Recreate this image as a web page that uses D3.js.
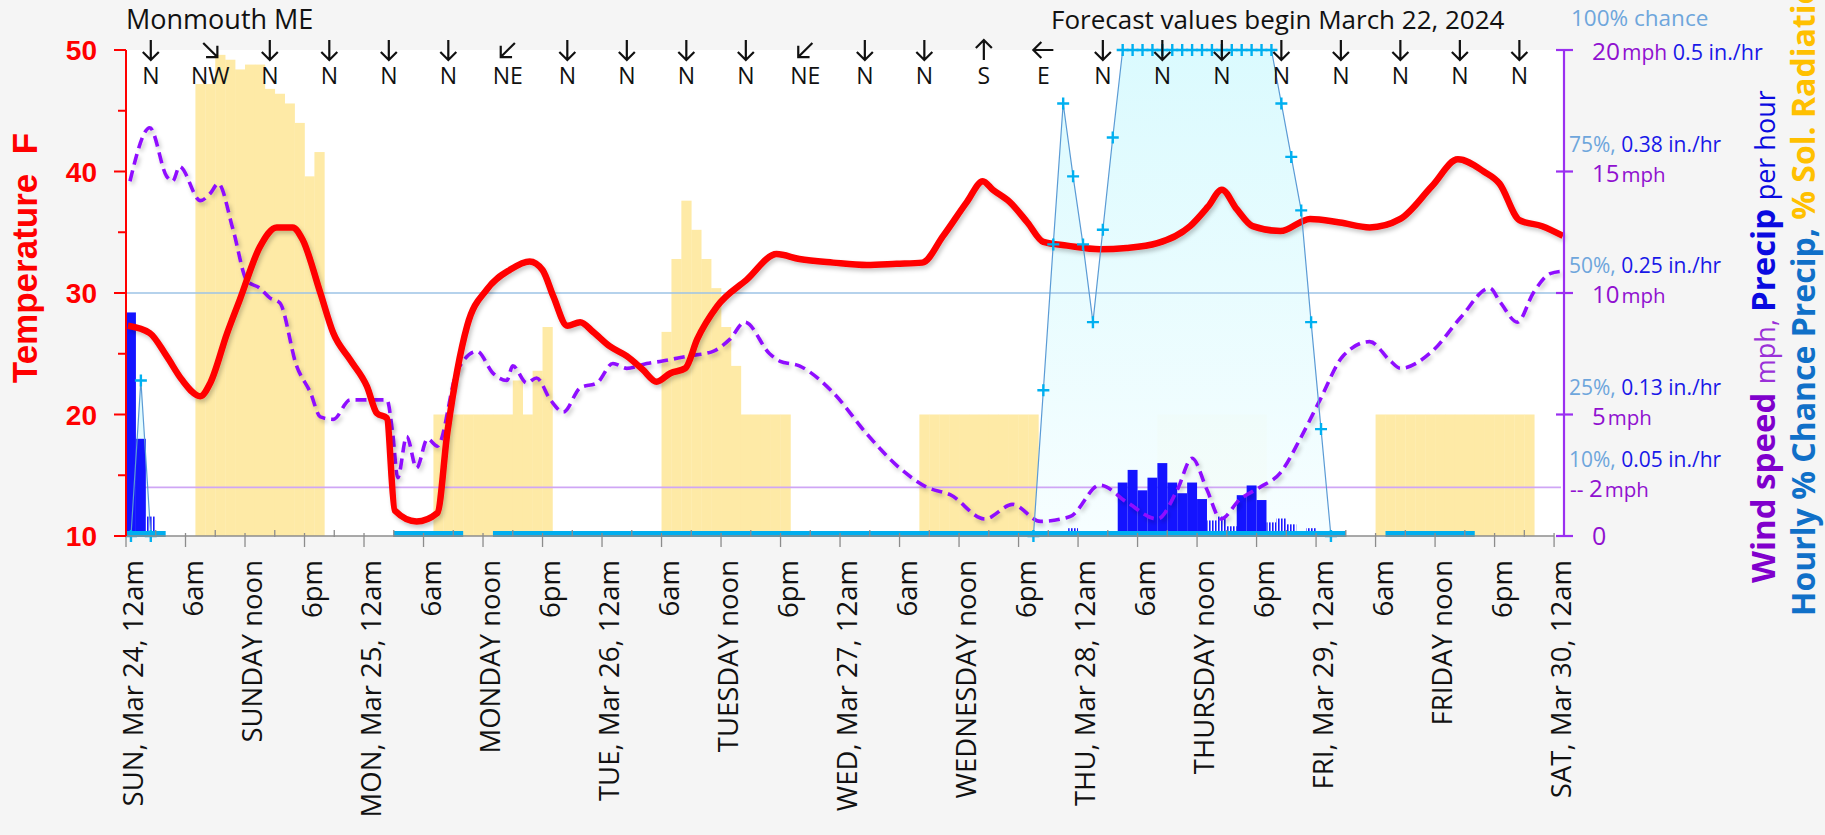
<!DOCTYPE html>
<html><head><meta charset="utf-8">
<script src="https://cdn.jsdelivr.net/npm/d3@7"></script>
<style>
html,body{margin:0;padding:0;background:#f5f5f5;}
svg{display:block;}
</style></head><body>
<svg id="chart" width="1825" height="835"></svg>
<script>
// ---------------- DATA ----------------
const stationName = "Monmouth ME";
const forecastNote = "Forecast values begin March 22, 2024";
const tickLabels = ["SUN, Mar 24, 12am","6am","SUNDAY noon","6pm","MON, Mar 25, 12am","6am","MONDAY noon","6pm",
  "TUE, Mar 26, 12am","6am","TUESDAY noon","6pm","WED, Mar 27, 12am","6am","WEDNESDAY noon","6pm",
  "THU, Mar 28, 12am","6am","THURSDAY noon","6pm","FRI, Mar 29, 12am","6am","FRIDAY noon","6pm","SAT, Mar 30, 12am"];
const tempTicks = [10,20,30,40,50];
const windDirs = ["N","NW","N","N","N","N","NE","N","N","N","N","NE","N","N","S","E","N","N","N","N","N","N","N","N"];

const tempHours = [0.2,2.4,4.1,5.6,7.5,8.5,10.2,11.5,13.5,15.2,16.8,17.8,19.6,20.9,22.6,24.3,25.3,26.3,27.1,29.3,
  31.4,32.4,34.4,36.4,38.7,40.7,42.0,43.1,44.5,45.8,47.1,48.8,50.5,52.1,53.5,54.9,56.4,57.6,59.6,62.6,
  65.6,67.9,71.3,74.7,77.7,80.3,82.4,84.8,86.4,87.4,89.1,90.9,92.5,94.9,98.2,100.9,104.0,107.3,109.1,110.5,
  112.0,113.6,116.4,119.4,122.4,125.4,128.5,131.7,134.3,136.9,138.5,140.5,142.8,144.9];
const tempValues = [27.3,26.7,24.8,22.9,21.5,22.6,26.7,29.5,33.8,35.4,35.4,34.4,30.0,26.7,24.5,22.3,20.1,19.7,12.1,11.2,
  11.9,18.5,27.3,30.3,31.9,32.6,31.9,29.7,27.3,27.6,26.8,25.6,24.8,23.7,22.7,23.4,23.8,26.2,28.9,31.1,
  33.2,32.8,32.5,32.3,32.4,32.5,34.7,37.5,39.2,38.5,37.5,35.8,34.2,33.9,33.6,33.7,34.1,35.5,37.1,38.5,
  36.9,35.5,35.1,36.1,35.8,35.4,36.1,38.8,41.0,40.0,39.0,36.0,35.5,34.7];

const windHours = [0.4,2.4,4.1,4.7,5.4,7.5,8.5,9.3,10.8,12.2,13.5,14.5,15.5,17.2,18.6,19.6,20.9,22.6,24.6,26.3,
  26.9,27.4,28.3,29.3,30.4,31.4,33.4,35.4,37.0,38.4,39.0,40.4,41.4,42.8,44.1,45.8,47.5,49.1,50.5,52.5,
  54.1,56.6,59.2,60.9,62.4,64.9,65.9,67.9,71.3,74.7,78.0,80.8,83.1,86.6,89.4,92.2,95.2,98.2,100.9,104.0,
  106.0,107.5,109.0,110.4,112.3,114.3,116.4,118.4,120.4,122.7,125.4,127.5,128.5,131.7,134.6,137.5,138.6,140.3,141.9,143.6,144.9];
const windValues = [14.6,16.8,14.8,14.6,15.2,13.8,14.1,14.5,12.6,10.5,10.2,9.8,9.6,7.0,5.9,4.9,4.8,5.6,5.6,5.6,
  4.2,2.4,4.1,2.8,4.0,3.7,6.8,7.6,6.7,6.4,7.0,6.3,6.5,5.6,5.1,6.1,6.3,7.1,6.9,7.1,
  7.2,7.4,7.6,8.1,8.8,7.5,7.2,7.0,5.9,4.2,2.8,2.0,1.7,0.7,1.3,0.6,0.8,2.1,1.4,0.7,
  1.9,3.2,1.9,0.7,1.5,2.0,2.6,4.0,5.6,7.4,8.0,7.2,6.9,7.6,9.0,10.2,9.6,8.8,10.0,10.8,10.9];

const chanceHours = [0,1,2,91,92,93,94,95,96,97,98,99,100,101,102,103,104,105,106,107,108,109,110,111,112,113,114,115,116,117,118,119,120,121];
const chanceValues = [0,32,0,0,30,60,89,74,60,44,63,82,100,100,100,100,100,100,100,100,100,100,100,100,100,100,100,100,89,78,67,44,22,0];

const precipHours = [0,1,2,95,100,101,102,103,104,105,106,107,108,109,110,111,112,113,114,115,116,117,119];
const precipRate  = [0.23,0.10,0.02,0.008,0.055,0.068,0.047,0.06,0.075,0.055,0.044,0.055,0.038,0.016,0.02,0.01,0.042,0.052,0.037,0.014,0.018,0.012,0.008];

const solarStart = [7,31,54,80,104,126];
const solarPct = [
  [93,93,99,98,96,97,97,92,91,89,85,74,79],
  [25,25,25,25,25,25,25,25,32,25,34,43],
  [42,57,69,63,57,51,43,35,25,25,25,25,25],
  [25,25,25,25,25,25,25,25,25,25,25,25],
  [25,25,25,25,25,25,25,25,25,25,25],
  [25,25,25,25,25,25,25,25,25,25,25,25,25,25,25,25]
];
const bandRuns = [[0,4],[27,34],[37,123],[127,136]];

const mphTicks = [0,5,10,15,20];
const pctMph = [2,5,10,15];
const pctLabels = ["10%,","25%,","50%,","75%,"];
const rateLabels = ["0.05 in./hr","0.13 in./hr","0.25 in./hr","0.38 in./hr"];

// ---------------- SCALES ----------------
const L=126, R=1564, T=50, B=536;
const x = d3.scaleLinear().domain([0,145]).range([L,R]);
const yT = d3.scaleLinear().domain([10,50]).range([B,T]);
const yW = d3.scaleLinear().domain([0,20]).range([B,T]);
const yP = d3.scaleLinear().domain([0,100]).range([B,T]);
const yR = d3.scaleLinear().domain([0,0.5]).range([B,T]);

const svg = d3.select("#chart");
const defs = svg.append("defs");
const f = defs.append("filter").attr("id","shadow").attr("x","-5%").attr("y","-10%").attr("width","110%").attr("height","130%");
f.append("feDropShadow").attr("dx",2).attr("dy",3).attr("stdDeviation",2).attr("flood-color","#000").attr("flood-opacity",0.22);
const g1 = defs.append("linearGradient").attr("id","chanceFill").attr("x1",0).attr("y1",0).attr("x2",0).attr("y2",1);
g1.append("stop").attr("offset","0%").attr("stop-color","#d9fafe");
g1.append("stop").attr("offset","100%").attr("stop-color","#f6feff");
const pat = defs.append("pattern").attr("id","stripe").attr("patternUnits","userSpaceOnUse").attr("width",3).attr("height",10);
pat.append("rect").attr("width",3).attr("height",10).attr("fill","#ffffff");
pat.append("rect").attr("width",1.6).attr("height",10).attr("fill","#1a1aff");

svg.append("rect").attr("width",1825).attr("height",835).attr("fill","#f5f5f5");
svg.append("rect").attr("x",L).attr("y",T).attr("width",R-L).attr("height",B-T).attr("fill","#ffffff");

// solar radiation bars
solarStart.forEach((s,i)=>{
  svg.append("g").selectAll("rect").data(solarPct[i]).join("rect")
    .attr("x",(d,j)=>x(s+j)).attr("width",(d,j)=>x(s+j+1)-x(s+j)+0.3)
    .attr("y",d=>yP(d)).attr("height",d=>B-yP(d)).attr("fill","#feeaa6");
});

// chance of precip segments
const chancePts = chanceHours.map((h,i)=>({h:h+0.5,v:chanceValues[i],raw:h}));
const segs=[]; chancePts.forEach((p,i)=>{ if(i===0||p.raw-chancePts[i-1].raw>1) segs.push([]); segs[segs.length-1].push(p);});
const area = d3.area().x(d=>x(d.h)).y0(B).y1(d=>yP(d.v));
segs.forEach(s=>svg.append("path").attr("d",area(s)).attr("fill","url(#chanceFill)").attr("opacity",0.95));

// reference lines
svg.append("line").attr("x1",L).attr("x2",R).attr("y1",yT(30)).attr("y2",yT(30)).attr("stroke","#9dc3e6").attr("stroke-width",1.5);
svg.append("line").attr("x1",L+4).attr("x2",R-3).attr("y1",yW(2)).attr("y2",yW(2)).attr("stroke","#cfa6f5").attr("stroke-width",1.8);

// precip bars
svg.append("g").selectAll("rect").data(precipHours).join("rect")
  .attr("x",h=>x(h)).attr("width",h=>x(h+1)-x(h))
  .attr("y",(h,i)=>yR(precipRate[i])).attr("height",(h,i)=>B-yR(precipRate[i]))
  .attr("fill",(h,i)=>precipRate[i]<0.025?"url(#stripe)":"#1414ff");

// bottom band
svg.append("g").selectAll("rect").data(bandRuns).join("rect")
  .attr("x",d=>x(d[0])).attr("width",d=>x(d[1])-x(d[0])).attr("y",B-5).attr("height",6).attr("fill","#00aeef");

// wind speed
const lineW = d3.line().x((h,i)=>x(h)).y((h,i)=>yW(windValues[i])).curve(d3.curveMonotoneX);
svg.append("path").attr("d",lineW(windHours)).attr("fill","none").attr("stroke","#8f10ff").attr("stroke-width",3.6)
  .attr("stroke-dasharray","11,6").attr("filter","url(#shadow)");

// temperature
const lineT = d3.line().x((h,i)=>x(h)).y((h,i)=>yT(tempValues[i])).curve(d3.curveMonotoneX);
svg.append("path").attr("d",lineT(tempHours)).attr("fill","none").attr("stroke","#ff0000").attr("stroke-width",6.5)
  .attr("stroke-linejoin","round").attr("filter","url(#shadow)");

// chance line + markers
const lineC = d3.line().x(d=>x(d.h)).y(d=>yP(d.v));
segs.forEach(s=>svg.append("path").attr("d",lineC(s)).attr("fill","none").attr("stroke","#5b9bd5").attr("stroke-width",1.2));
const mk = svg.append("g").attr("stroke","#00b0f0").attr("stroke-width",2.4);
chancePts.forEach(p=>{
  const cx=x(p.h), cy=yP(p.v);
  mk.append("path").attr("d",`M${cx-6},${cy}H${cx+6}M${cx},${cy-6}V${cy+6}`);
});

// x axis
svg.append("line").attr("x1",L).attr("x2",x(144)).attr("y1",B).attr("y2",B).attr("stroke","#8c8c8c").attr("stroke-width",1.5);
const minor = d3.range(3,145,6);
svg.append("g").selectAll("line").data(minor).join("line").attr("x1",h=>x(h)).attr("x2",h=>x(h)).attr("y1",B-6).attr("y2",B+1)
  .attr("stroke","#8c8c8c").attr("stroke-width",1.3);
svg.append("g").selectAll("line").data(tickLabels).join("line").attr("x1",(d,i)=>x(i*6)).attr("x2",(d,i)=>x(i*6)).attr("y1",B-3).attr("y2",B+11)
  .attr("stroke","#8c8c8c").attr("stroke-width",1.3);
svg.append("g").selectAll("text").data(tickLabels).join("text")
  .attr("transform",(d,i)=>`translate(${x(i*6)+17},560) rotate(-90)`)
  .attr("text-anchor","end").attr("font-family","Open Sans").attr("font-size",27.5).attr("fill","#111").text(d=>d);

// left axis
svg.append("line").attr("x1",L).attr("x2",L).attr("y1",T).attr("y2",B).attr("stroke","#ff0000").attr("stroke-width",2);
svg.append("g").selectAll("line").data(d3.range(10,51,5)).join("line")
  .attr("x1",d=>d%10===0?114:118).attr("x2",L).attr("y1",d=>yT(d)).attr("y2",d=>yT(d)).attr("stroke","#ff0000").attr("stroke-width",2);
svg.append("g").selectAll("text").data(tempTicks).join("text")
  .attr("x",97).attr("y",d=>yT(d)+10).attr("text-anchor","end").attr("font-family","Liberation Sans").attr("font-weight","bold")
  .attr("font-size",28).attr("fill","#ff0000").text(d=>d);
svg.append("text").attr("transform","translate(37,258) rotate(-90)").attr("text-anchor","middle")
  .attr("font-family","Liberation Sans").attr("font-weight","bold").attr("font-size",35).attr("fill","#ff0000")
  .style("white-space","pre").text("Temperature  F");

// right axis
svg.append("line").attr("x1",R).attr("x2",R).attr("y1",T).attr("y2",B).attr("stroke","#9a30f0").attr("stroke-width",2.2);
svg.append("g").selectAll("line").data(mphTicks).join("line").attr("x1",R-8).attr("x2",R+9).attr("y1",d=>yW(d)).attr("y2",d=>yW(d))
  .attr("stroke","#9a30f0").attr("stroke-width",2.2);
const rl = svg.append("g").attr("font-family","Open Sans");
pctMph.forEach((m,i)=>{
  const t = rl.append("text").attr("x",1569).attr("y",yW(m)-20).attr("font-size",21);
  t.append("tspan").attr("fill","#6ea6dc").text(pctLabels[i]);
  t.append("tspan").attr("fill","#1818e8").text(" "+rateLabels[i]);
  const u = rl.append("text").attr("x",m===2?1570:1592).attr("y",yW(m)+10).attr("fill","#9010d0");
  if(m===2) u.append("tspan").attr("font-size",21).text("-- ");
  u.append("tspan").attr("font-size",24).text(m);
  u.append("tspan").attr("font-size",20.5).attr("dx",2).text("mph");
});
const top20 = rl.append("text").attr("x",1592).attr("y",yW(20)+10);
top20.append("tspan").attr("font-size",24.5).attr("fill","#9010d0").text("20");
top20.append("tspan").attr("font-size",21).attr("dx",2).attr("fill","#9010d0").text("mph");
top20.append("tspan").attr("font-size",21.5).attr("fill","#1818e8").text(" 0.5 in./hr");
rl.append("text").attr("x",1571).attr("y",yP(100)-24).attr("font-size",22.5).attr("fill","#6ea6dc").text("100% chance");
rl.append("text").attr("x",1592).attr("y",yW(0)+9).attr("font-size",25).attr("fill","#9010d0").text("0");

// right vertical titles
const v1 = svg.append("text").attr("transform","translate(1775,583) rotate(-90)").attr("font-family","Open Sans");
v1.append("tspan").attr("font-weight","bold").attr("font-size",33).attr("fill","#8000cc").text("Wind speed ");
v1.append("tspan").attr("font-size",27).attr("fill","#9a30d8").text("mph, ");
v1.append("tspan").attr("font-weight","bold").attr("font-size",33).attr("fill","#0a0ae0").text("Precip ");
v1.append("tspan").attr("font-size",27).attr("fill","#0a0ae0").text("per hour");
const v2 = svg.append("text").attr("transform","translate(1815,616) rotate(-90)").attr("font-family","Open Sans").attr("font-weight","bold").attr("font-size",32);
v2.append("tspan").attr("fill","#1070c8").text("Hourly % Chance Precip, ");
v2.append("tspan").attr("fill","#ffc000").text("% Sol. Radiation");

// titles
svg.append("text").attr("x",126).attr("y",29).attr("font-family","Open Sans").attr("font-size",27).attr("fill","#111").text(stationName);
svg.append("text").attr("x",1051).attr("y",29).attr("font-family","Open Sans").attr("font-size",26).attr("fill","#111").text(forecastNote);

// wind direction arrows
const ang = {N:0,NE:45,E:90,SE:135,S:180,SW:225,W:270,NW:315};
const wd = svg.append("g");
windDirs.forEach((d,i)=>{
  const cx = x(2.5+6*i);
  wd.append("path").attr("d","M0,-10L0,10M-8,2L0,10L8,2").attr("transform",`translate(${cx},50) rotate(${ang[d]})`)
    .attr("fill","none").attr("stroke","#111").attr("stroke-width",2.2);
  wd.append("text").attr("x",cx).attr("y",84).attr("text-anchor","middle").attr("font-family","Open Sans").attr("font-size",23).attr("fill","#111").text(d);
});
</script>
</body></html>
